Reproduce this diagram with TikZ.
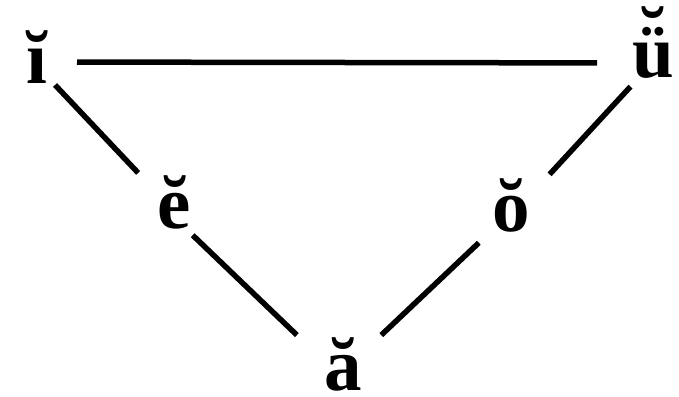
\documentclass[tikz,border=0pt]{standalone}
\usepackage{fontspec}
\setmainfont{Liberation Serif}
\begin{document}
\begin{tikzpicture}[x=1pt,y=-1pt,
  lt/.style={font=\fontsize{75}{80}\selectfont\bfseries, inner sep=0pt, anchor=base, text height=52pt, text depth=0pt},
  ln/.style={line width=5.5pt}]
\useasboundingbox (0,0) rectangle (679,396);
\node[lt] (i) at (37,83) {ĭ};
\node[lt] (u) at (653,77) {\ooalign{ü\cr\hidewidth\raisebox{0.23em}{˘}\hidewidth\cr}};
\node[lt] (e) at (174,228) {ĕ};
\node[lt] (o) at (511,231) {ŏ};
\node[lt] (a) at (343,390) {ă};
\draw[ln, shorten <=40pt, shorten >=56pt] ([yshift=-5pt]i.center) -- ([yshift=-12pt]u.center);
\draw[ln, shorten <=32.7pt, shorten >=45.8pt] ([shift={(-4.4,4.2)}]i.center) -- ([shift={(-4.4,4.2)}]e.center);
\draw[ln, shorten <=36.6pt, shorten >=53.2pt] ([shift={(-7.7,7.9)}]e.center) -- ([shift={(-7.7,7.9)}]a.center);
\draw[ln, shorten <=41.5pt, shorten >=48.6pt] ([shift={(5.6,5.1)}]u.center) -- ([shift={(5.6,5.1)}]o.center);
\draw[ln, shorten <=49.4pt, shorten >=47.6pt] ([shift={(3.7,3.8)}]o.center) -- ([shift={(3.7,3.8)}]a.center);
\end{tikzpicture}
\end{document}
